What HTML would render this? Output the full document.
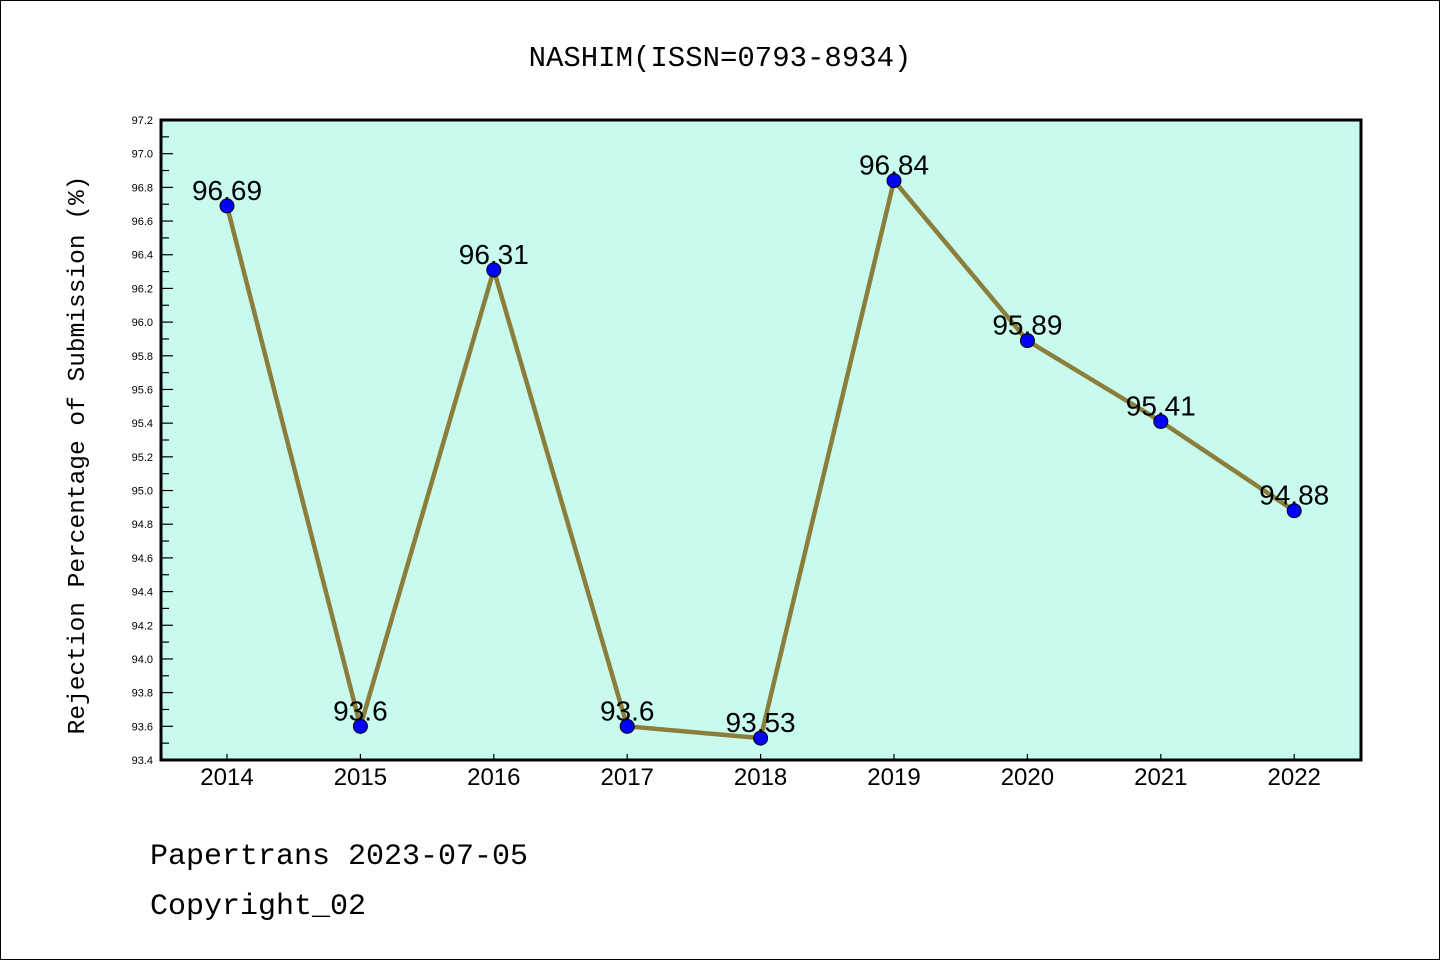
<!DOCTYPE html>
<html><head><meta charset="utf-8"><style>
body{margin:0;background:#fff}
svg{display:block}
</style></head><body>
<svg id="c" width="1440" height="960" xmlns="http://www.w3.org/2000/svg">
<rect x="0.5" y="0.5" width="1439" height="959" fill="#fff" stroke="#000"/>
<text x="720" y="66" text-anchor="middle" font-family="Liberation Mono, monospace" font-size="29">NASHIM(ISSN=0793-8934)</text>
<rect x="161" y="120" width="1200" height="640" fill="#c8fbee"/>
<g id="g"></g>
<rect x="161" y="120" width="1200" height="640" fill="none" stroke="#000" stroke-width="3"/>
<text transform="translate(84,455) rotate(-90)" text-anchor="middle" font-family="Liberation Mono, monospace" font-size="24.5">Rejection Percentage of Submission (%)</text>
<text x="150" y="864" font-family="Liberation Mono, monospace" font-size="30">Papertrans 2023-07-05</text>
<text x="150" y="914" font-family="Liberation Mono, monospace" font-size="30">Copyright_02</text>
</svg>
<script>
const years=["2014","2015","2016","2017","2018","2019","2020","2021","2022"];
const values=[96.69,93.6,96.31,93.6,93.53,96.84,95.89,95.41,94.88];
const valueLabels=["96.69","93.6","96.31","93.6","93.53","96.84","95.89","95.41","94.88"];
const yTicks=["93.4","93.6","93.8","94.0","94.2","94.4","94.6","94.8","95.0","95.2","95.4","95.6","95.8","96.0","96.2","96.4","96.6","96.8","97.0","97.2"];
const NS="http://www.w3.org/2000/svg";
const g=document.getElementById('g');
const yMin=93.4,yMax=97.2,plotTop=120,plotBot=760;
const y=v=>plotBot-(v-yMin)/(yMax-yMin)*(plotBot-plotTop);
const x=i=>227+i*133.4;
function mk(t,a){const e=document.createElementNS(NS,t);for(const k in a)e.setAttribute(k,a[k]);g.appendChild(e);return e;}
yTicks.forEach((t,i)=>{
 const v=parseFloat(t),yy=y(v);
 const tk=mk('line',{x1:161,x2:173,y1:yy,y2:yy,stroke:'#000','stroke-width':1.2});
 
 
 const lb=mk('text',{x:153,y:yy+4,'text-anchor':'end','font-family':'Liberation Sans, sans-serif','font-size':11});
 lb.textContent=t;
 
 
 if(i<yTicks.length-1){const ym=y(v+0.1);
  const mt=mk('line',{x1:161,x2:169,y1:ym,y2:ym,stroke:'#000','stroke-width':1.2});
  
  }
});
years.forEach((yr,i)=>{
 const tk=mk('line',{x1:x(i),x2:x(i),y1:plotBot,y2:plotBot-6,stroke:'#000','stroke-width':1.2});
 
 
 const lb=mk('text',{x:x(i),y:785,'text-anchor':'middle','font-family':'Liberation Sans, sans-serif','font-size':24});
 lb.textContent=yr;
 
 
});
const line=mk('polyline',{points:values.map((v,i)=>x(i)+','+y(v)).join(' '),fill:'none',stroke:'#8b7d3a','stroke-width':4.5});


values.forEach((v,i)=>{
 const c=mk('circle',{cx:x(i),cy:y(v),r:7,fill:'#0000ff',stroke:'#000','stroke-width':1});
 
 
 const t=mk('text',{x:x(i),y:y(v)-6,'text-anchor':'middle','font-family':'Liberation Sans, sans-serif','font-size':28});
 t.textContent=valueLabels[i];
 
 
});
</script>
</body></html>
